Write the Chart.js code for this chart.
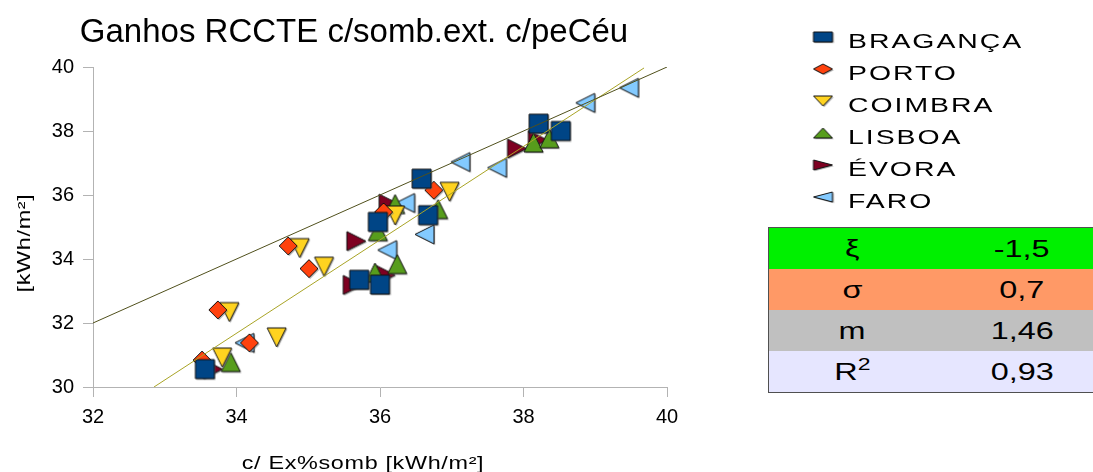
<!DOCTYPE html>
<html><head><meta charset="utf-8">
<script src="https://cdn.jsdelivr.net/npm/chart.js@4"></script>
<style>
html,body{margin:0;padding:0;background:#fff;overflow:hidden;}
#wrap{position:relative;width:1093px;height:472px;overflow:hidden;}
#c{position:absolute;left:0;top:0;}
#stats{position:absolute;left:768px;top:227px;width:340px;border:1px solid #505050;border-right:none;font-family:"Liberation Sans",Arial,sans-serif;font-size:24px;color:#000;}
.row{height:41px;display:flex;align-items:center;}
.k{width:166px;text-align:center;}
.v{width:174px;text-align:center;}
.s{display:inline-block;transform:scaleX(1.35);}
sup{font-size:17px;vertical-align:10px;line-height:0;}
</style></head>
<body><div id="wrap"><canvas id="c" width="1093" height="472"></canvas><div id="stats"></div></div>
<script>
// ---- data ----
const seriesNames = ['BRAGANÇA','PORTO','COIMBRA','LISBOA','ÉVORA','FARO'];
const bragancaX = [33.56, 36.58, 35.97, 36.67, 35.71, 36.00, 38.21, 38.52];
const bragancaY = [30.56, 36.51, 35.16, 35.37, 33.35, 33.20, 38.23, 38.00];
const portoX = [33.74, 34.18, 33.52, 34.72, 35.01, 36.05, 36.75];
const portoY = [32.41, 31.38, 30.84, 34.41, 33.70, 35.47, 36.15];
const coimbraX = [33.90, 33.80, 34.56, 34.88, 35.22, 36.21, 36.97];
const coimbraY = [32.34, 30.92, 31.55, 34.34, 33.76, 35.36, 36.10];
const lisboaX = [33.92, 35.97, 36.21, 35.93, 36.24, 36.81, 38.14, 38.36];
const lisboaY = [30.78, 34.87, 35.72, 33.58, 33.84, 35.56, 37.64, 37.77];
const evoraX = [33.67, 35.67, 36.12, 35.62, 36.08, 37.91, 38.20];
const evoraY = [30.56, 34.56, 35.73, 33.19, 33.50, 37.45, 37.72];
const faroX = [34.11, 36.35, 36.10, 36.62, 37.12, 37.63, 38.86, 39.47];
const faroY = [31.38, 35.75, 34.28, 34.77, 37.03, 36.85, 38.88, 39.35];
const refLineX = [32, 40];
const refLineY = [32, 40];
const fitLineX = [32.85, 39.68];
const fitLineY = [30.00, 39.97];
const xTicks = [32, 34, 36, 38, 40];
const yTicks = [30, 32, 34, 36, 38, 40];
const statLabels = ['ξ', 'σ', 'm', 'R<sup>2</sup>'];
const statValues = ['-1,5', '0,7', '1,46', '0,93'];
const titleText = 'Ganhos RCCTE c/somb.ext. c/peCéu';
const xTitle = 'c/ Ex%somb [kWh/m²]';
const yTitle = '[kWh/m²]';

// ---- styling ----
const FONT = "'Liberation Sans', Arial, sans-serif";
Chart.defaults.font.family = FONT;
Chart.defaults.font.size = 20;
Chart.defaults.color = '#000';
const colors = ['#004586','#ff420e','#ffd320','#579d1c','#7e0021','#83caff'];
const shapes = ['square','diamond','down','up','right','left'];
const rowBg = ['#00f000','#ff9966','#c0c0c0','#e6e6ff'];

function shapePath(ctx, shape, x0, y0, w, h){
  ctx.beginPath();
  if (shape==='square'){ ctx.rect(x0,y0,w,h); }
  else if (shape==='diamond'){ ctx.moveTo(x0+w/2,y0); ctx.lineTo(x0+w,y0+h/2); ctx.lineTo(x0+w/2,y0+h); ctx.lineTo(x0,y0+h/2); }
  else if (shape==='down'){ ctx.moveTo(x0,y0); ctx.lineTo(x0+w,y0); ctx.lineTo(x0+w/2,y0+h); }
  else if (shape==='up'){ ctx.moveTo(x0+w/2,y0); ctx.lineTo(x0+w,y0+h); ctx.lineTo(x0,y0+h); }
  else if (shape==='right'){ ctx.moveTo(x0,y0); ctx.lineTo(x0+w,y0+h/2); ctx.lineTo(x0,y0+h); }
  else if (shape==='left'){ ctx.moveTo(x0+w,y0); ctx.lineTo(x0,y0+h/2); ctx.lineTo(x0+w,y0+h); }
  ctx.closePath();
}
function makeMarker(shape, fill, w, h){
  const pad = 2;
  const cv = document.createElement('canvas');
  cv.width = w + pad*2; cv.height = h + pad*2;
  const c = cv.getContext('2d');
  shapePath(c, shape, pad+1.2, pad+1.2, w, h);
  c.fillStyle = 'rgba(120,120,120,0.6)'; c.fill();
  shapePath(c, shape, pad, pad, w, h);
  c.fillStyle = fill; c.fill();
  c.lineWidth = 1; c.strokeStyle = '#111'; c.stroke();
  return cv;
}
const sizes = {square:[19,19], diamond:[18,18], down:[19,19], up:[19,19], right:[19,19], left:[19,19]};
const pointImgs = shapes.map((s,i)=>makeMarker(s, colors[i], sizes[s][0], sizes[s][1]));
const legendImgs = shapes.map((s,i)=>makeMarker(s, colors[i], 19, 10));

const xs = [bragancaX, portoX, coimbraX, lisboaX, evoraX, faroX];
const ys = [bragancaY, portoY, coimbraY, lisboaY, evoraY, faroY];
const pts = (X,Y)=>X.map((x,i)=>({x:x, y:Y[i]}));

const datasets = [
  {label:'ref', data:pts(refLineX, refLineY), showLine:true, borderColor:'#50501c', borderWidth:1, pointRadius:0, fill:false, order:0},
  {label:'fit', data:pts(fitLineX, fitLineY), showLine:true, borderColor:'#a9a426', borderWidth:1, pointRadius:0, fill:false, order:0}
];
seriesNames.forEach((n,i)=>{
  datasets.push({label:n, data:pts(xs[i], ys[i]), pointStyle:pointImgs[i], pointRadius:10, backgroundColor:colors[i], borderColor:'#000', order:i+1, legendIdx:i});
});

function stretchedText(ctx, text, x, y, sx, spacing, align){
  ctx.save();
  if ('letterSpacing' in ctx) ctx.letterSpacing = spacing + 'px';
  const w = ctx.measureText(text).width * sx;
  let left = x;
  if (align === 'center') left = x - w/2;
  ctx.translate(left, y);
  ctx.scale(sx, 1);
  ctx.textAlign = 'left';
  ctx.fillText(text, 0, 0);
  ctx.restore();
}

const textPlugin = {
  id: 'textPlugin',
  afterDraw(chart){
    const ctx = chart.ctx;
    ctx.save();
    ctx.fillStyle = '#000';
    ctx.textBaseline = 'alphabetic';
    // title
    ctx.font = '33px ' + FONT;
    stretchedText(ctx, titleText, 354, 42, 1, 0, 'center');
    // x title
    ctx.font = '18px ' + FONT;
    stretchedText(ctx, xTitle, 363, 469, 1.3, 0.5, 'center');
    // y title
    ctx.save();
    ctx.translate(30, 243);
    ctx.rotate(-Math.PI/2);
    ctx.font = '18px ' + FONT;
    stretchedText(ctx, yTitle, 0, 0, 1.3, 0.5, 'center');
    ctx.restore();
    // legend
    ctx.font = '20px ' + FONT;
    chart.data.datasets.forEach(ds=>{
      if (ds.legendIdx === undefined) return;
      const i = ds.legendIdx;
      const cy = 40 + i*32;
      const img = legendImgs[i];
      ctx.drawImage(img, 823 - img.width/2, cy - 3 - img.height/2);
      stretchedText(ctx, ds.label, 848, cy + 7.5, 1.42, 1.4, 'left');
    });
    ctx.restore();
  }
};

const axisGray = '#b3b3b3';
new Chart(document.getElementById('c'), {
  type: 'scatter',
  data: {datasets: datasets},
  options: {
    responsive: false, animation: false, devicePixelRatio: 1,
    layout: {padding: {left: 0, top: 67, right: 426, bottom: 0}},
    plugins: {legend: {display: false}, tooltip: {enabled: false}, title: {display: false}},
    scales: {
      x: {
        type: 'linear', min: 32, max: 40,
        afterBuildTicks: s => { s.ticks = xTicks.map(v => ({value: v})); },
        afterFit: s => { s.height = 85; },
        grid: {drawOnChartArea: false, drawTicks: true, tickLength: 10, color: axisGray, lineWidth: 1},
        border: {color: axisGray, width: 1},
        ticks: {font: {size: 20}, color: '#000', padding: 8, maxRotation: 0}
      },
      y: {
        type: 'linear', min: 30, max: 40,
        afterBuildTicks: s => { s.ticks = yTicks.map(v => ({value: v})); },
        afterFit: s => { s.width = 93; },
        grid: {drawOnChartArea: false, drawTicks: true, tickLength: 10, color: axisGray, lineWidth: 1},
        border: {color: axisGray, width: 1},
        ticks: {font: {size: 20}, color: '#000', padding: 9}
      }
    }
  },
  plugins: [textPlugin]
});

// stats table
const st = document.getElementById('stats');
statLabels.forEach((l,i)=>{
  const r = document.createElement('div');
  r.className = 'row';
  r.style.background = rowBg[i];
  r.innerHTML = '<div class="k"><span class="s">'+l+'</span></div><div class="v"><span class="s">'+statValues[i]+'</span></div>';
  st.appendChild(r);
});
</script>
</body></html>
